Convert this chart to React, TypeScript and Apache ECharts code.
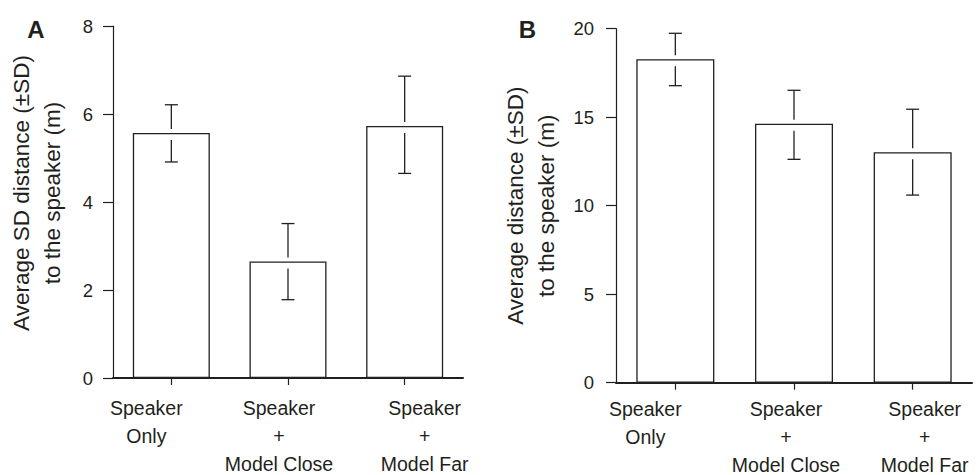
import React, { useEffect, useRef } from "react";
import * as echarts from "echarts";

const categories = ["Speaker\nOnly", "Speaker\n+\nModel Close", "Speaker\n+\nModel Far"];

// Panel A: Average SD distance (m)
const meansA = [5.57, 2.65, 5.73];
const lowA = [4.91, 1.78, 4.65];
const highA = [6.21, 3.51, 6.86];

// Panel B: Average distance (m)
const meansB = [18.27, 14.63, 13.02];
const lowB = [16.78, 12.62, 10.6];
const highB = [19.74, 16.52, 15.45];

const yTicksA = { min: 0, max: 8, interval: 2 };
const yTicksB = { min: 0, max: 20, interval: 5 };

const titleA = "Average SD distance (±SD)\nto the speaker (m)";
const titleB = "Average distance (±SD)\nto the speaker (m)";

const FONT = "'Liberation Sans', Arial, Helvetica, sans-serif";
const INK = "#231f20";

function catData(shifts: number[]) {
  return categories.map((c, i) => {
    const s = shifts[i];
    return {
      value: c,
      textStyle: { padding: s >= 0 ? [0, 0, 0, 2 * s] : [0, -2 * s, 0, 0] },
    };
  });
}

function errorSeries(xi: number, means: number[], lows: number[], highs: number[]) {
  return {
    type: "custom",
    xAxisIndex: xi,
    yAxisIndex: xi,
    z: 5,
    encode: { x: 0, y: [1, 2, 3] },
    data: means.map((m, i) => [i, m, lows[i], highs[i]]),
    renderItem: (params: any, api: any) => {
      const x = api.value(0);
      const mid = api.coord([x, api.value(1)]);
      const lo = api.coord([x, api.value(2)]);
      const hi = api.coord([x, api.value(3)]);
      const cx = mid[0];
      const hw = 6.5;
      const style = { stroke: INK, lineWidth: 1.3 };
      return {
        type: "group",
        children: [
          { type: "line", shape: { x1: cx - hw, y1: hi[1], x2: cx + hw, y2: hi[1] }, style },
          { type: "line", shape: { x1: cx, y1: hi[1], x2: cx, y2: mid[1] - 4 }, style },
          { type: "line", shape: { x1: cx, y1: mid[1] + 7, x2: cx, y2: lo[1] }, style },
          { type: "line", shape: { x1: cx - hw, y1: lo[1], x2: cx + hw, y2: lo[1] }, style },
        ],
      };
    },
  };
}

function xAxisDef(gi: number, shifts: number[], margin: number) {
  return {
    type: "category",
    gridIndex: gi,
    data: catData(shifts),
    boundaryGap: true,
    axisLine: { show: true, lineStyle: { color: INK, width: 2 } },
    axisTick: { show: true, alignWithLabel: true, length: 7, lineStyle: { color: INK, width: 1.2 } },
    axisLabel: {
      interval: 0,
      margin,
      color: INK,
      fontSize: 19.5,
      lineHeight: 28,
      fontFamily: FONT,
      align: "center",
    },
    splitLine: { show: false },
  };
}

function yAxisDef(gi: number, t: any, name: string, nameGap: number, labelMargin: number, shiftUp: number) {
  return {
    type: "value",
    gridIndex: gi,
    min: t.min,
    max: t.max,
    interval: t.interval,
    name,
    nameLocation: "middle",
    nameGap,
    nameMoveOverlap: false,
    nameTextStyle: {
      color: INK,
      fontSize: 22.5,
      lineHeight: 31,
      fontFamily: FONT,
      padding: shiftUp >= 0 ? [0, 0, 0, 2 * shiftUp] : [0, -2 * shiftUp, 0, 0],
    },
    axisLine: { show: true, lineStyle: { color: INK, width: 1.2 } },
    axisTick: { show: true, length: 10, lineStyle: { color: INK, width: 1.2 } },
    axisLabel: { margin: labelMargin, color: INK, fontSize: 18.5, fontFamily: FONT },
    splitLine: { show: false },
  };
}

export default function App() {
  const ref = useRef<HTMLDivElement>(null);
  useEffect(() => {
    if (!ref.current) return;
    const chart = echarts.init(ref.current, null, { renderer: "svg" });
    const barStyle = { color: "#ffffff", borderColor: INK, borderWidth: 1.3 };
    chart.setOption({
      animation: false,
      backgroundColor: "#ffffff",
      textStyle: { fontFamily: FONT },
      grid: [
        { left: 113, top: 26, width: 350, height: 352, outerBoundsMode: "none", containLabel: false },
        { left: 616, top: 28.7, width: 356, height: 354, outerBoundsMode: "none", containLabel: false },
      ],
      xAxis: [xAxisDef(0, [-25, -9, 20], 16), xAxisDef(1, [-30, -8, 12], 12)],
      yAxis: [
        yAxisDef(0, yTicksA, titleA, 45, 20, 9),
        yAxisDef(1, yTicksB, titleB, 54, 22, 0),
      ],
      graphic: [
        {
          type: "text",
          x: 36,
          y: 29,
          style: { text: "A", fill: INK, font: `bold 24px ${FONT}`, align: "center", verticalAlign: "middle" },
        },
        {
          type: "text",
          x: 527.5,
          y: 29,
          style: { text: "B", fill: INK, font: `bold 24px ${FONT}`, align: "center", verticalAlign: "middle" },
        },
      ],
      series: [
        { type: "bar", xAxisIndex: 0, yAxisIndex: 0, data: meansA, barWidth: 77, itemStyle: barStyle },
        { type: "bar", xAxisIndex: 1, yAxisIndex: 1, data: meansB, barWidth: 78, itemStyle: barStyle },
        errorSeries(0, meansA, lowA, highA),
        errorSeries(1, meansB, lowB, highB),
      ],
    });
    return () => chart.dispose();
  }, []);
  return (
    <div
      ref={ref}
      style={{ position: "absolute", left: 0, top: 0, width: 978, height: 475, background: "#fff" }}
    />
  );
}
